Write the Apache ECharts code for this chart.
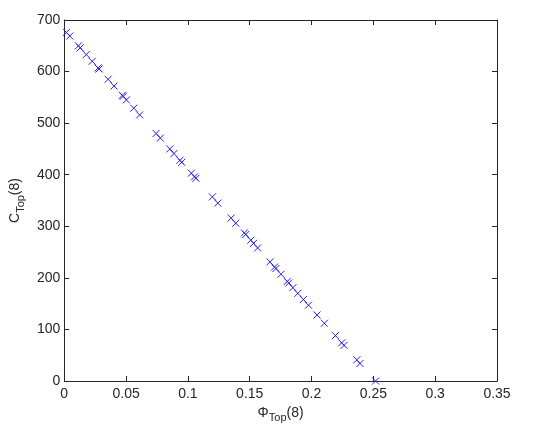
<!DOCTYPE html>
<html>
<head>
<meta charset="utf-8">
<script src="https://cdn.jsdelivr.net/npm/echarts@6/dist/echarts.min.js"></script>
<style>
html,body{margin:0;padding:0;background:#fff;}
#chart{width:550px;height:432px;}
</style>
</head>
<body>
<div id="chart"></div>
<script>
// Data
var phiTop = [0.0018, 0.0045, 0.0115, 0.0129, 0.0178, 0.0226, 0.0274, 0.0281, 0.0355, 0.0403,
  0.0470, 0.0477, 0.0503, 0.0562, 0.0610, 0.0743, 0.0777, 0.0854, 0.0887, 0.0935,
  0.0950, 0.1028, 0.1054, 0.1065, 0.1198, 0.1242, 0.1350, 0.1387, 0.1457, 0.1468,
  0.1509, 0.1531, 0.1564, 0.1664, 0.1701, 0.1712, 0.1753, 0.1804, 0.1816, 0.1849,
  0.1889, 0.1934, 0.1975, 0.2045, 0.2104, 0.2193, 0.2244, 0.2263, 0.2366, 0.2392, 0.2518];
var cTop = [676, 669, 650, 646, 633, 620, 607, 605, 585, 572,
  554, 552, 545, 529, 516, 480, 471, 450, 441, 428,
  424, 403, 396, 393, 357, 345, 316, 306, 287, 284,
  273, 267, 258, 231, 221, 218, 207, 193, 190, 181,
  170, 158, 147, 128, 112, 88, 74, 69, 41, 34, 0];
var xTicks = ['0', '0.05', '0.1', '0.15', '0.2', '0.25', '0.3', '0.35'];
var yTicks = ['0', '100', '200', '300', '400', '500', '600', '700'];

var points = phiTop.map(function (x, i) { return [x, cTop[i]]; });

var axisColor = '#262626';
var font = 'Liberation Sans';
var rich = {
  n: { fontSize: 14, fontFamily: font, color: axisColor, verticalAlign: 'top', lineHeight: 16 },
  s: { fontSize: 11, fontFamily: font, color: axisColor, verticalAlign: 'top', padding: [7, 0, 0, 0], lineHeight: 12 }
};

function baseAxis(pos, min, max, interval, labels, showLabel, margin) {
  return {
    type: 'value', position: pos, min: min, max: max, interval: interval,
    axisLine: { show: true, onZero: false, lineStyle: { color: axisColor, width: 1 } },
    axisTick: { show: true, inside: true, length: 5, lineStyle: { color: axisColor } },
    axisLabel: {
      show: showLabel, color: axisColor, fontFamily: font, fontSize: 14, margin: margin,
      formatter: function (v) { return labels[Math.round((v - min) / interval)]; }
    },
    splitLine: { show: false }
  };
}

var chart = echarts.init(document.getElementById('chart'), null, { renderer: 'canvas' });
var xa = baseAxis('bottom', 0, 0.35, 0.05, xTicks, true, 6);
xa.name = '{n|Φ}{s|Top}{n|(8)}';
xa.nameLocation = 'middle';
xa.nameGap = 24;
xa.nameTextStyle = { rich: rich };
var xb = baseAxis('top', 0, 0.35, 0.05, xTicks, false, 6);
var ya = baseAxis('left', 0, 700, 100, yTicks, true, 4);
ya.name = '{n|C}{s|Top}{n|(8)}';
ya.nameLocation = 'middle';
ya.nameGap = 35;
ya.nameRotate = 90;
ya.nameTextStyle = { rich: rich };
var yb = baseAxis('right', 0, 700, 100, yTicks, false, 4);

chart.setOption({
  animation: false,
  backgroundColor: '#ffffff',
  grid: { left: 61, right: 53, top: 20, bottom: 51, containLabel: false },
  xAxis: [xa, xb],
  yAxis: [ya, yb],
  series: [{
    type: 'scatter',
    xAxisIndex: 0, yAxisIndex: 0,
    data: points,
    symbol: 'path://M0,0L10,10M10,0L0,10',
    symbolSize: 7,
    itemStyle: { color: 'rgba(0,0,0,0)', borderColor: '#2222ee', borderWidth: 1, opacity: 1 }
  }]
});
</script>
</body>
</html>
